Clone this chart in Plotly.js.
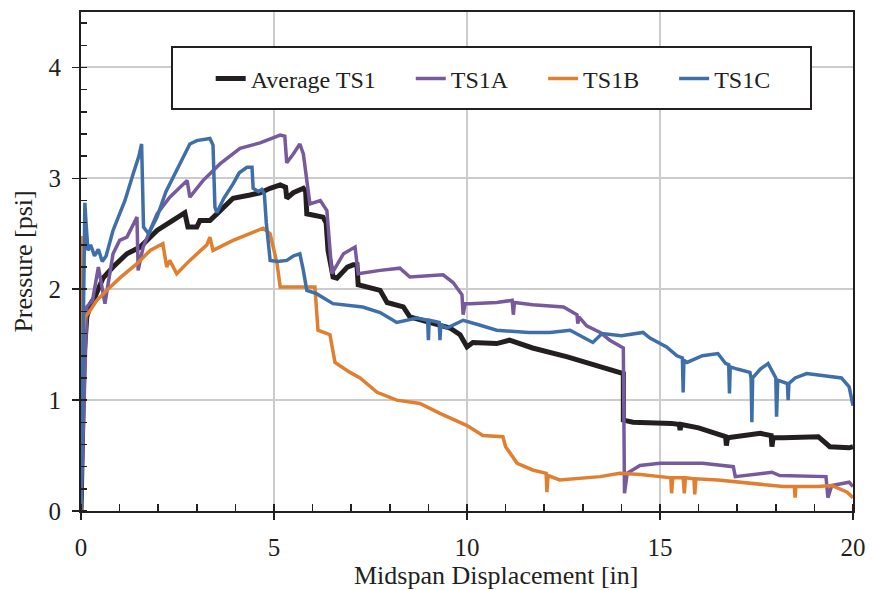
<!DOCTYPE html>
<html>
<head>
<meta charset="utf-8">
<script src="https://cdn.plot.ly/plotly-3.0.1.min.js"></script>
<style>html,body{margin:0;padding:0;background:#fff;}#chart{width:872px;height:590px;}</style>
</head>
<body>
<div id="chart"></div>
<script>
// Average TS1
var avgX = [0,0.03,0.08,0.15,0.25,0.36,0.57,0.83,1.19,1.53,1.97,2.38,2.69,2.77,3.0,3.08,3.34,3.52,3.94,4.38,4.64,4.9,5.16,5.3,5.33,5.5,5.76,5.82,5.85,6.27,6.35,6.4,6.53,6.63,6.9,7.05,7.15,7.18,7.75,7.93,8.35,8.52,9.04,9.56,9.82,10.0,10.15,10.77,11.1,11.7,12.6,13.45,14.0,14.05,14.05,14.3,15.3,15.5,15.52,15.55,16.0,16.7,16.72,16.75,17.6,17.88,17.9,17.93,18.2,19.1,19.4,19.9,20.0];
var avgY = [0,0.6,1.4,1.75,1.87,1.93,2.1,2.2,2.32,2.38,2.53,2.62,2.69,2.56,2.56,2.62,2.62,2.68,2.82,2.85,2.87,2.91,2.94,2.92,2.82,2.87,2.91,2.88,2.68,2.65,2.6,2.35,2.11,2.1,2.2,2.22,2.22,2.04,1.99,1.88,1.84,1.75,1.7,1.65,1.59,1.48,1.52,1.51,1.54,1.47,1.39,1.3,1.24,1.24,0.82,0.8,0.79,0.78,0.73,0.78,0.75,0.67,0.59,0.66,0.7,0.68,0.58,0.66,0.66,0.67,0.58,0.57,0.58];

// TS1A
var aX = [0,0.1,0.15,0.3,0.45,0.62,0.83,1.0,1.19,1.45,1.48,1.61,1.97,2.3,2.75,2.82,3.16,3.6,4.12,4.64,5.16,5.28,5.33,5.5,5.67,5.76,5.85,5.93,6.2,6.37,6.5,6.8,7.1,7.18,7.75,8.26,8.52,9.38,9.64,9.87,9.9,9.95,10.08,10.77,11.17,11.2,11.23,11.7,12.5,12.85,12.87,12.9,13.1,13.45,13.7,14.0,14.05,14.08,14.15,14.48,15.0,15.6,16.1,16.9,16.95,17.9,18.1,19.3,19.35,19.45,19.9,20.0];
var aY = [0,1.2,1.84,1.9,2.2,1.87,2.32,2.44,2.47,2.65,2.17,2.38,2.68,2.83,2.98,2.83,2.98,3.13,3.27,3.32,3.39,3.38,3.14,3.22,3.31,3.22,2.95,2.77,2.8,2.71,2.14,2.32,2.38,2.14,2.17,2.19,2.11,2.13,2.06,1.95,1.77,1.87,1.87,1.88,1.9,1.77,1.88,1.86,1.84,1.77,1.69,1.75,1.67,1.61,1.54,1.48,1.47,0.16,0.34,0.41,0.43,0.43,0.43,0.4,0.31,0.35,0.32,0.31,0.12,0.23,0.26,0.22];

// TS1B
var bX = [0,0,0.02,0.05,0.1,0.18,0.41,0.67,1.0,1.45,1.79,2.12,2.22,2.3,2.48,2.82,3.26,3.34,3.42,3.94,4.38,4.72,4.9,5.08,5.16,5.85,6.06,6.14,6.45,6.58,6.97,7.23,7.67,8.18,8.78,9.3,10.0,10.41,10.93,11.0,11.3,11.7,12.05,12.07,12.1,12.4,13.45,13.96,14.5,15.0,15.28,15.3,15.33,15.6,15.63,15.66,15.88,15.9,15.93,16.5,17.33,18.2,18.48,18.5,18.52,19.1,19.45,19.85,20.0];
var bY = [0,2.48,1.3,1.6,1.75,1.78,1.9,1.99,2.1,2.23,2.35,2.41,2.2,2.26,2.14,2.26,2.4,2.47,2.35,2.44,2.5,2.55,2.5,2.23,2.02,2.02,2.02,1.63,1.59,1.34,1.25,1.2,1.07,1.0,0.97,0.88,0.77,0.68,0.67,0.58,0.43,0.37,0.34,0.17,0.32,0.28,0.31,0.34,0.33,0.31,0.3,0.16,0.3,0.3,0.16,0.3,0.29,0.15,0.29,0.28,0.25,0.22,0.22,0.12,0.22,0.22,0.23,0.17,0.12];

// TS1C
var cX = [0,0.05,0.1,0.13,0.18,0.25,0.35,0.45,0.55,0.65,0.83,1.0,1.14,1.35,1.5,1.57,1.62,1.75,1.97,2.2,2.38,2.65,2.82,3.0,3.34,3.42,3.47,3.52,3.7,3.94,4.1,4.3,4.43,4.46,4.6,4.68,4.75,4.8,4.9,5.1,5.33,5.5,5.67,5.76,5.85,6.1,6.53,7.3,7.75,8.18,8.7,8.98,9.0,9.02,9.28,9.3,9.32,9.48,9.9,10.3,10.77,11.6,12.15,12.67,13.26,13.5,14.0,14.56,14.74,15.17,15.44,15.58,15.6,15.62,15.7,16.1,16.5,16.7,16.78,16.8,16.82,17.0,17.33,17.36,17.38,17.4,17.6,17.8,18.0,18.02,18.05,18.3,18.32,18.34,18.5,18.8,19.2,19.7,19.9,20.0];
var cY = [0,1.5,2.78,2.6,2.35,2.4,2.3,2.36,2.25,2.3,2.53,2.68,2.8,3.04,3.2,3.31,2.56,2.5,2.65,2.88,3.0,3.19,3.31,3.34,3.36,3.3,2.74,2.69,2.82,2.95,3.05,3.1,3.1,2.91,2.88,2.9,2.86,2.6,2.26,2.25,2.26,2.3,2.32,2.17,1.99,1.96,1.87,1.84,1.79,1.7,1.74,1.72,1.54,1.72,1.7,1.54,1.68,1.65,1.72,1.68,1.63,1.61,1.61,1.63,1.52,1.6,1.58,1.61,1.56,1.48,1.4,1.38,1.07,1.36,1.34,1.4,1.42,1.33,1.32,1.06,1.3,1.28,1.25,1.2,0.8,1.2,1.28,1.33,1.2,0.85,1.18,1.15,1.0,1.15,1.2,1.24,1.22,1.2,1.12,0.95];

var seriesNames = ['Average TS1\u00a0\u00a0\u00a0\u00a0\u00a0', 'TS1A\u00a0\u00a0\u00a0\u00a0\u00a0', 'TS1B\u00a0\u00a0\u00a0\u00a0\u00a0', 'TS1C'];
var xTickVals = [0,5,10,15,20];
var yTickVals = [0,1,2,3,4];

function tr(x, y, name, color, w) {
  return {x: x, y: y, name: name, type: 'scatter', mode: 'lines',
    line: {color: color, width: w}};
}

var data = [
  tr(avgX, avgY, seriesNames[0], '#231f20', 5),
  tr(aX, aY, seriesNames[1], '#775a9d', 3.5),
  tr(bX, bY, seriesNames[2], '#e07f2f', 3.5),
  tr(cX, cY, seriesNames[3], '#3f6fa9', 3.5),
  {x: [], y: [], xaxis: 'x2', yaxis: 'y2', showlegend: false, type: 'scatter', mode: 'lines'}
];

var fontFam = 'Liberation Serif, Times New Roman, serif';
var pad = '<span>\u00a0\u00a0\u00a0\u00a0\u00a0\u00a0\u00a0\u00a0\u00a0</span>';
var layout = {
  width: 872, height: 590,
  margin: {l: 81, r: 19, t: 12, b: 79},
  paper_bgcolor: '#ffffff', plot_bgcolor: '#ffffff',
  font: {family: fontFam, color: '#231f20', size: 25},
  showlegend: true,
  legend: {orientation: 'h', x: 0.168, xanchor: 'left', y: 0.866, yanchor: 'middle',
    bgcolor: 'rgba(0,0,0,0)', borderwidth: 0, font: {family: fontFam, size: 24, color: '#231f20'},
    itemwidth: 30, traceorder: 'normal'},
  xaxis: {range: [0, 20], tickvals: xTickVals, ticktext: xTickVals.map(String),
    ticks: 'outside', ticklen: 7, tickwidth: 1.5, tickcolor: '#231f20',
    showline: true, linecolor: '#231f20', linewidth: 2, mirror: true,
    showgrid: true, gridcolor: '#cccccc', gridwidth: 2, zeroline: false,
    ticklabelstandoff: 6,
    minor: {dtick: 1, ticks: 'inside', ticklen: 7, tickwidth: 1.5, tickcolor: '#231f20', showgrid: false},
    title: {text: pad + 'Midspan Displacement [in]', font: {family: fontFam, size: 26}, standoff: 0}},
  yaxis: {range: [0, 4.5], tickvals: yTickVals, ticktext: yTickVals.map(String),
    ticks: 'outside', ticklen: 7, tickwidth: 1.5, tickcolor: '#231f20',
    showline: true, linecolor: '#231f20', linewidth: 2, mirror: true,
    showgrid: true, gridcolor: '#cccccc', gridwidth: 2, zeroline: false,
    ticklabelstandoff: 6,
    minor: {dtick: 0.2, ticks: 'inside', ticklen: 6, tickwidth: 1.5, tickcolor: '#231f20', showgrid: false},
    title: {text: 'Pressure [psi]', font: {family: fontFam, size: 26}, standoff: 8}},
  xaxis2: {overlaying: 'x', range: [0, 20], tickvals: xTickVals, ticks: 'inside', ticklen: 7, tickwidth: 1.5,
    tickcolor: '#231f20', showticklabels: false, showgrid: false, showline: false, zeroline: false},
  yaxis2: {overlaying: 'y', range: [0, 4.5], tickvals: yTickVals, ticks: 'inside', ticklen: 6, tickwidth: 1.5,
    tickcolor: '#231f20', showticklabels: false, showgrid: false, showline: false, zeroline: false},
  shapes: [{type: 'rect', xref: 'paper', yref: 'paper', layer: 'above',
    x0: (172 - 81) / 772, x1: (811 - 81) / 772, y0: (511 - 109) / 499, y1: (511 - 47) / 499,
    line: {color: '#231f20', width: 2}, fillcolor: '#ffffff'}]
};

Plotly.newPlot('chart', data, layout, {displayModeBar: false, staticPlot: true});
</script>
</body>
</html>
